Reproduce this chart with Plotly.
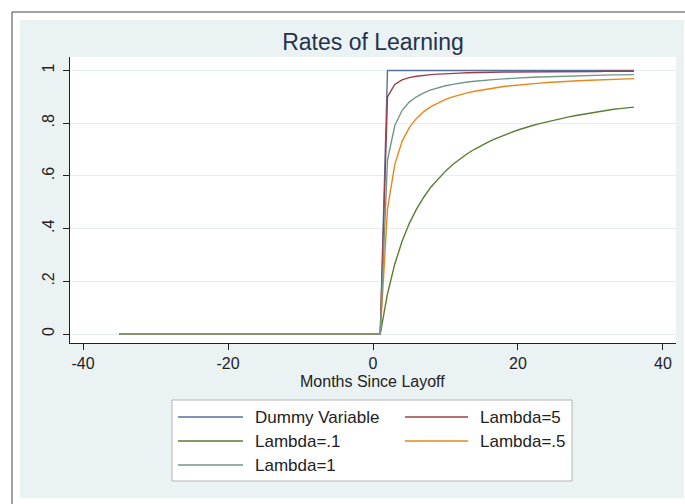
import plotly.graph_objects as go

# ---- data ----
months = list(range(-35, 37))
before = [0.0] * 37  # months -35 .. 1
dummy = before + [1.0] * 35
lam5 = before + [0.900, 0.947, 0.964, 0.973, 0.978, 0.982, 0.984, 0.986, 0.988, 0.989,
                 0.990, 0.991, 0.992, 0.992, 0.993, 0.993, 0.994, 0.994, 0.994, 0.994,
                 0.995, 0.995, 0.995, 0.995, 0.996, 0.996, 0.996, 0.996, 0.996, 0.996,
                 0.997, 0.997, 0.997, 0.997, 0.997]
lam01 = before + [0.153, 0.265, 0.351, 0.419, 0.474, 0.519, 0.558, 0.590, 0.618, 0.643,
                  0.664, 0.684, 0.701, 0.716, 0.730, 0.742, 0.754, 0.764, 0.774, 0.783,
                  0.791, 0.798, 0.805, 0.812, 0.818, 0.824, 0.829, 0.834, 0.839, 0.844,
                  0.848, 0.852, 0.855, 0.858, 0.861]
lam05 = before + [0.474, 0.643, 0.730, 0.783, 0.818, 0.844, 0.863, 0.878, 0.890, 0.900,
                  0.908, 0.915, 0.921, 0.926, 0.931, 0.935, 0.939, 0.942, 0.945, 0.947,
                  0.950, 0.952, 0.954, 0.956, 0.957, 0.959, 0.960, 0.962, 0.963, 0.964,
                  0.965, 0.966, 0.967, 0.968, 0.969]
lam1 = before + [0.660, 0.790, 0.848, 0.880, 0.900, 0.915, 0.926, 0.935, 0.942, 0.947,
                 0.952, 0.956, 0.959, 0.962, 0.964, 0.966, 0.968, 0.970, 0.972, 0.973,
                 0.974, 0.975, 0.976, 0.977, 0.978, 0.979, 0.980, 0.981, 0.981, 0.982,
                 0.982, 0.983, 0.983, 0.984, 0.984]

series_names = ["Dummy Variable", "Lambda=5", "Lambda=.1", "Lambda=.5", "Lambda=1"]
series_values = [dummy, lam5, lam01, lam05, lam1]
series_colors = ["#56719b", "#9c3f47", "#5b7d35", "#ea861c", "#729789"]

y_ticks = [0, 0.2, 0.4, 0.6, 0.8, 1]
y_tick_labels = ["0", ".2", ".4", ".6", ".8", "1"]
x_ticks = [-40, -20, 0, 20, 40]
x_tick_labels = ["-40", "-20", "0", "20", "40"]

# ---- layout geometry (pixels) ----
W, H = 685, 504
PL, PR, PT, PB = 70, 676, 57, 343


def px(x):
    return (x - PL) / (PR - PL)


def py(y):
    return (PB - y) / (PB - PT)


FONT = "Liberation Sans, Arial, sans-serif"
TXT = "#222222"

fig = go.Figure()
for name, vals, col in zip(series_names, series_values, series_colors):
    fig.add_trace(go.Scatter(x=months, y=vals, mode="lines", name=name,
                             line=dict(color=col, width=1.4), showlegend=False))

shapes = [
    # bluish outer region
    dict(type="rect", xref="paper", yref="paper", x0=px(20), x1=px(684), y0=py(498), y1=py(20),
         fillcolor="#eaf2f3", line=dict(width=0), layer="below"),
    # white plot region
    dict(type="rect", xref="paper", yref="paper", x0=0, x1=1, y0=0, y1=1,
         fillcolor="#ffffff", line=dict(width=0), layer="below"),
    # outer frame lines
    dict(type="line", xref="paper", yref="paper", x0=px(12), x1=px(700), y0=py(12), y1=py(12),
         line=dict(color="#444444", width=1)),
    dict(type="line", xref="paper", yref="paper", x0=px(12), x1=px(12), y0=py(12), y1=py(520),
         line=dict(color="#444444", width=1)),
    # legend box
    dict(type="rect", xref="paper", yref="paper", x0=px(172), x1=px(572), y0=py(481), y1=py(400),
         fillcolor="#ffffff", line=dict(color="#b4b4b4", width=1), layer="below"),
]

annotations = [
    dict(text="Months Since Layoff", xref="paper", yref="paper", x=px(372), y=py(382),
         xanchor="center", yanchor="middle", showarrow=False,
         font=dict(family=FONT, size=16, color=TXT)),
]

# legend entries (2 columns, row-wise like Stata)
col_line = [(178, 243), (405, 468)]
col_text = [253, 478]
row_y = [417, 441, 465]
for i, (name, col) in enumerate(zip(series_names, series_colors)):
    r, c = divmod(i, 2)
    x0, x1 = col_line[c]
    yy = row_y[r]
    shapes.append(dict(type="line", xref="paper", yref="paper", x0=px(x0), x1=px(x1),
                       y0=py(yy), y1=py(yy), line=dict(color=col, width=1.6)))
    annotations.append(dict(text=name, xref="paper", yref="paper", x=px(col_text[c]), y=py(yy),
                            xanchor="left", yanchor="middle", showarrow=False,
                            font=dict(family=FONT, size=17, color=TXT)))

fig.update_layout(
    width=W, height=H,
    margin=dict(l=PL, r=W - PR, t=PT, b=H - PB, pad=0),
    paper_bgcolor="#ffffff",
    plot_bgcolor="#ffffff",
    title=dict(text="Rates of Learning", x=px(373), xref="paper", y=1 - 42 / H,
               yref="container", xanchor="center", yanchor="middle",
               font=dict(family=FONT, size=23, color="#24324e")),
    shapes=shapes,
    annotations=annotations,
    showlegend=False,
    xaxis=dict(range=[-41.8, 41.8], tickvals=x_ticks, ticktext=x_tick_labels,
               showgrid=False, zeroline=False, showline=True, linecolor="#222222", linewidth=1,
               ticks="outside", ticklen=6, tickcolor="#222222",
               tickfont=dict(family=FONT, size=16, color=TXT)),
    yaxis=dict(range=[-0.034, 1.051], tickvals=y_ticks, ticktext=y_tick_labels,
               showgrid=True, gridcolor="#e6eef0", gridwidth=1,
               zeroline=False, showline=True, linecolor="#222222", linewidth=1,
               ticks="outside", ticklen=6, tickcolor="#222222", tickangle=-90,
               ticklabelstandoff=3,
               tickfont=dict(family=FONT, size=16, color=TXT)),
    font=dict(family=FONT, color=TXT),
)

fig.write_html("out.html", config={"displayModeBar": False},
               post_script="document.body.style.margin='0px';document.body.style.overflow='hidden';")
